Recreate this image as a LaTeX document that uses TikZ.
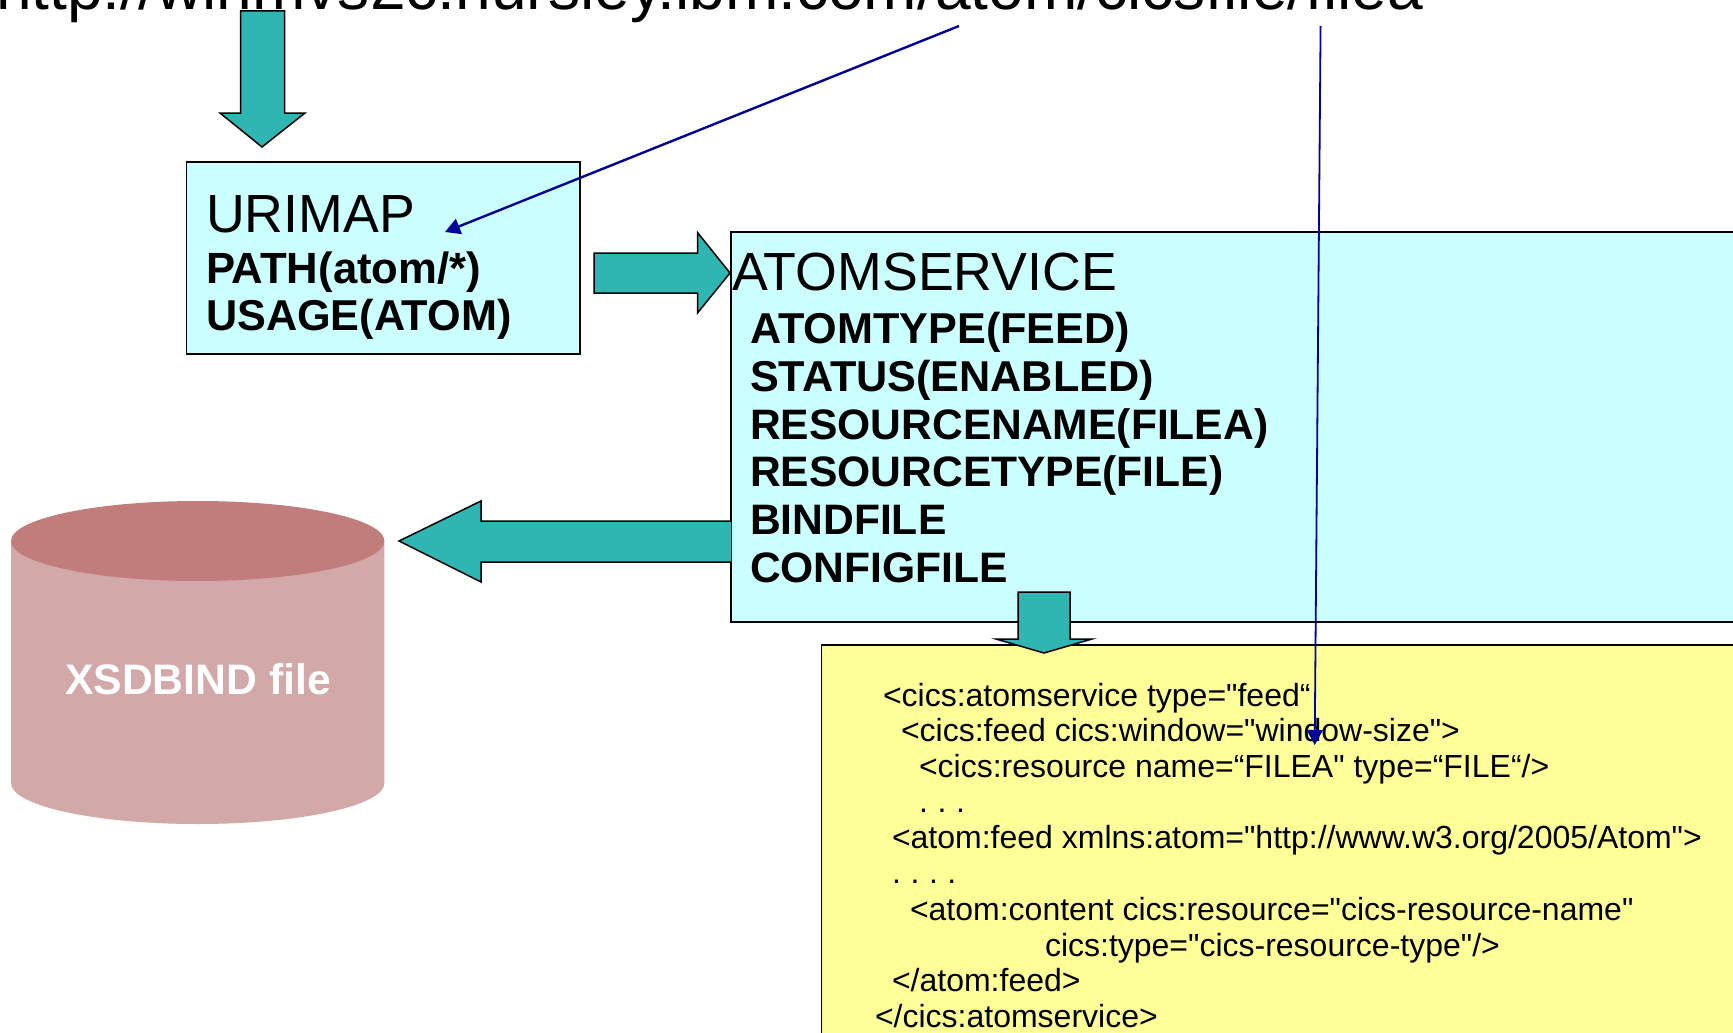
\documentclass[tikz,border=0pt]{standalone}
\usepackage{fontspec}
\setmainfont{Liberation Sans}
\newfontfamily\codefont{Liberation Sans}
\usetikzlibrary{arrows.meta}
\definecolor{tealfill}{HTML}{2FB5B2}
\definecolor{cyanfill}{HTML}{CCFFFF}
\definecolor{yellowfill}{HTML}{FFFF99}
\definecolor{linkblue}{HTML}{000099}
\definecolor{cyltop}{HTML}{C07D7B}
\definecolor{cylbody}{HTML}{D2A8A9}
\newcommand{\fs}[1]{\fontsize{#1pt}{#1pt}\selectfont}
\newcommand{\dotfont}{\codefont\fs{32}\frenchspacing\spaceskip=.3em\relax}
\tikzset{
  x=1pt,y=-1pt,
  blockarrow/.style={draw=black,line width=1.5pt,fill=tealfill,line join=miter},
  box/.style={draw=black,line width=1.5pt,anchor=north west,inner sep=0pt,outer sep=0pt},
  label/.style={anchor=base west,inner sep=0pt,outer sep=0pt,text=black},
  biglabel/.style={label,font=\fs{53.7}},
  boldlabel/.style={label,font=\fs{43.2}\bfseries},
  boldtight/.style={label,font=\fs{42.6}\bfseries},
  codelabel/.style={label,font=\codefont\fs{32}\frenchspacing},
  dotlabel/.style={label,font=\dotfont},
  link/.style={draw=linkblue,line width=2.4pt,-{Triangle[length=15pt,width=16pt]}}
}
\begin{document}
\begin{tikzpicture}
\useasboundingbox (0,0) rectangle (1733,1033);
\clip (0,0) rectangle (1733,1033);
\fill[white] (0,0) rectangle (1733,1033);
% cylinder
\fill[cylbody] (11,541) -- (11,783) arc[start angle=180,end angle=0,x radius=186.7,y radius=41] -- (384.4,541) -- cycle;
\fill[cyltop] (197.7,541) ellipse[x radius=186.7,y radius=40];
\node[label,anchor=base,text=white,font=\fs{42.7}\bfseries] (xsd) at (198,694) {XSDBIND file};
% boxes
\node[box,fill=cyanfill,minimum width=393.5pt,minimum height=192pt] (urimap) at (186.5,162) {};
\node[box,fill=cyanfill,minimum width=1100pt,minimum height=390pt] (atomsvc) at (731,232) {};
\node[box,fill=yellowfill,minimum width=1000pt,minimum height=500pt] (feed) at (821.5,645) {};
% block arrows
\draw[blockarrow] (240.5,11) -- (284.5,11) -- (284.5,113) -- (305,113) -- (262,147) -- (220,113) -- (240.5,113) -- cycle;
\draw[blockarrow] (594,253) -- (697.5,253) -- (697.5,232.5) -- (730,273) -- (697.5,313) -- (697.5,293) -- (594,293) -- cycle;
\draw[blockarrow] (731,521) -- (481,521) -- (481,501) -- (399,541) -- (481,582) -- (481,562) -- (731,562);
\fill[tealfill] (729,522) rectangle (731,561);
\draw[blockarrow] (1018,592) -- (1070,592) -- (1070,639) -- (1092,639) -- (1044,653) -- (996,639) -- (1018,639) -- cycle;
% text
\node[label,font=\fs{64.1}] (url) at (-4,10) {http://winmvs2c.hursley.ibm.com/atom/cicsfile/filea};
\node[biglabel] (t1) at (206,232) {URIMAP};
\node[label,font=\fs{43.7}\bfseries] (t2) at (206,283) {PATH(atom/*)};
\node[boldlabel] (t3) at (206,330) {USAGE(ATOM)};
\node[biglabel] (s0) at (732,290) {ATOMSERVICE};
\node[boldlabel] (s1) at (750,343) {ATOMTYPE(FEED)};
\node[boldlabel] (s2) at (750,391) {STATUS(ENABLED)};
\node[boldtight] (s3) at (750,439) {RESOURCENAME(FILEA)};
\node[boldtight] (s4) at (750,486) {RESOURCETYPE(FILE)};
\node[boldtight] (s5) at (750,534) {BINDFILE};
\node[boldtight] (s6) at (750,582) {CONFIGFILE};
\node[codelabel] (c1) at (883,706) {<cics:atomservice type="feed“};
\node[codelabel] (c2) at (901,741) {<cics:feed cics:window="window-size">};
\node[codelabel] (c3) at (919,777) {<cics:resource name=“FILEA" type=“FILE“/>};
\node[dotlabel] (c4) at (919,812) {. . .};
\node[codelabel] (c5) at (892,848) {<atom:feed xmlns:atom="http://www.w3.org/2005/Atom">};
\node[dotlabel] (c6) at (892,883) {. . . .};
\node[codelabel] (c7) at (910,920) {<atom:content cics:resource="cics-resource-name"};
\node[codelabel] (c8) at (1045,956) {cics:type="cics-resource-type"/>};
\node[codelabel] (c9) at (892,991) {</atom:feed>};
\node[codelabel] (c10) at (875,1027) {</cics:atomservice>};
% links
\coordinate (pathsrc) at (959,26);
\coordinate (pathdst) at (445,232);
\coordinate (filesrc) at (1320.6,26);
\coordinate (filedst) at (1314.7,745);
\draw[link] (pathsrc) -- (pathdst);
\draw[link,line width=1.8pt] (filesrc) -- (filedst);
\end{tikzpicture}
\end{document}
